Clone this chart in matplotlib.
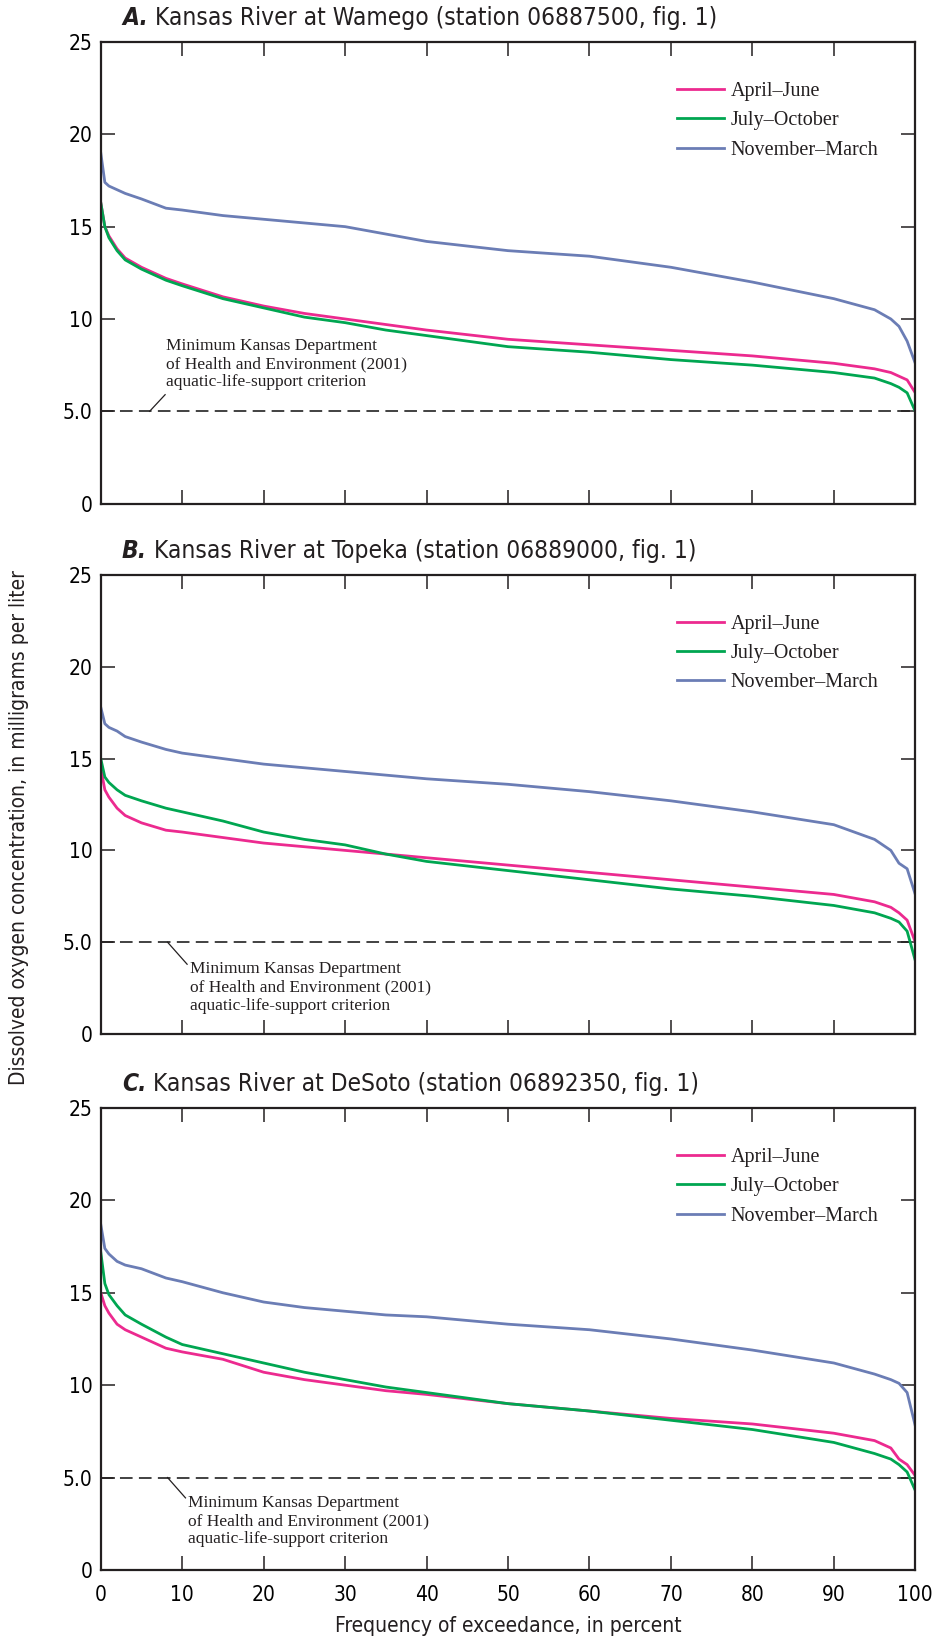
import matplotlib
matplotlib.use("Agg")
import matplotlib.pyplot as plt

# exceedance percent and dissolved oxygen (mg/L)
pct = [0, 0.5, 1, 2, 3, 5, 8, 10, 15, 20, 25, 30, 35, 40, 50, 60, 70, 80, 90, 95, 97, 98, 99, 100]

wamego_apr_jun = [16.3, 15.0, 14.5, 13.8, 13.3, 12.8, 12.2, 11.9, 11.2, 10.7, 10.3, 10.0, 9.7, 9.4, 8.9, 8.6, 8.3, 8.0, 7.6, 7.3, 7.1, 6.9, 6.7, 6.0]
wamego_jul_oct = [16.3, 15.0, 14.4, 13.7, 13.2, 12.7, 12.1, 11.8, 11.1, 10.6, 10.1, 9.8, 9.4, 9.1, 8.5, 8.2, 7.8, 7.5, 7.1, 6.8, 6.5, 6.3, 6.0, 5.0]
wamego_nov_mar = [19.0, 17.4, 17.2, 17.0, 16.8, 16.5, 16.0, 15.9, 15.6, 15.4, 15.2, 15.0, 14.6, 14.2, 13.7, 13.4, 12.8, 12.0, 11.1, 10.5, 10.0, 9.6, 8.8, 7.6]

topeka_apr_jun = [14.5, 13.3, 12.9, 12.3, 11.9, 11.5, 11.1, 11.0, 10.7, 10.4, 10.2, 10.0, 9.8, 9.6, 9.2, 8.8, 8.4, 8.0, 7.6, 7.2, 6.9, 6.6, 6.2, 5.0]
topeka_jul_oct = [15.0, 14.0, 13.7, 13.3, 13.0, 12.7, 12.3, 12.1, 11.6, 11.0, 10.6, 10.3, 9.8, 9.4, 8.9, 8.4, 7.9, 7.5, 7.0, 6.6, 6.3, 6.1, 5.6, 4.0]
topeka_nov_mar = [17.8, 16.9, 16.7, 16.5, 16.2, 15.9, 15.5, 15.3, 15.0, 14.7, 14.5, 14.3, 14.1, 13.9, 13.6, 13.2, 12.7, 12.1, 11.4, 10.6, 10.0, 9.3, 9.0, 7.6]

desoto_apr_jun = [15.0, 14.3, 13.9, 13.3, 13.0, 12.6, 12.0, 11.8, 11.4, 10.7, 10.3, 10.0, 9.7, 9.5, 9.0, 8.6, 8.2, 7.9, 7.4, 7.0, 6.6, 6.0, 5.7, 5.1]
desoto_jul_oct = [17.2, 15.5, 14.9, 14.3, 13.8, 13.3, 12.6, 12.2, 11.7, 11.2, 10.7, 10.3, 9.9, 9.6, 9.0, 8.6, 8.1, 7.6, 6.9, 6.3, 6.0, 5.7, 5.3, 4.3]
desoto_nov_mar = [18.7, 17.4, 17.1, 16.7, 16.5, 16.3, 15.8, 15.6, 15.0, 14.5, 14.2, 14.0, 13.8, 13.7, 13.3, 13.0, 12.5, 11.9, 11.2, 10.6, 10.3, 10.1, 9.6, 7.8]

criterion = 5.0
seasons = ["April\u2013June", "July\u2013October", "November\u2013March"]
colors = ["#ec2a8f", "#00a651", "#6b7db5"]

panels = [
    ("A.", "Kansas River at Wamego (station 06887500, fig. 1)",
     [wamego_apr_jun, wamego_jul_oct, wamego_nov_mar]),
    ("B.", "Kansas River at Topeka (station 06889000, fig. 1)",
     [topeka_apr_jun, topeka_jul_oct, topeka_nov_mar]),
    ("C.", "Kansas River at DeSoto (station 06892350, fig. 1)",
     [desoto_apr_jun, desoto_jul_oct, desoto_nov_mar]),
]

note = ("Minimum Kansas Department\n"
        "of Health and Environment (2001)\n"
        "aquatic-life-support criterion")
# leader start (x on the line), leader end, text anchor (left, top)
notes = [
    ((6.0, 5.0), (7.9, 5.9), (8.0, 8.95)),
    ((8.2, 5.0), (10.6, 3.8), (10.9, 3.95)),
    ((8.2, 5.0), (10.4, 3.9), (10.7, 4.05)),
]

sans = "DejaVu Sans"
cond = "condensed"
serif = "Liberation Serif"
ink = "#231f20"

fig = plt.figure(figsize=(9.33, 16.41), dpi=100)
boxes = [(0.108, 0.6931, 0.873, 0.2813),
         (0.108, 0.3699, 0.873, 0.2797),
         (0.108, 0.0433, 0.873, 0.2815)]

for i, (letter, title, series) in enumerate(panels):
    ax = fig.add_axes(boxes[i])
    for vals, lab, c in zip(series, seasons, colors):
        ax.plot(pct, vals, color=c, lw=2.0, label=lab, solid_joinstyle="round")
    ax.axhline(criterion, color="#333333", lw=1.3, ls=(0, (7, 3.5)), zorder=1)

    ax.set_xlim(0, 100)
    ax.set_ylim(0, 25)
    ax.set_xticks(range(0, 101, 10))
    ax.set_yticks([0, 5, 10, 15, 20, 25])
    ax.set_yticklabels(["0", "5.0", "10", "15", "20", "25"], fontfamily=sans,
                       fontstretch=cond, fontsize=15)
    ax.tick_params(direction="in", length=10, width=1.1, color=ink,
                   top=True, right=True, pad=6)
    ax.tick_params(axis="x", pad=11)
    if i < 2:
        ax.set_xticklabels([])
    else:
        ax.set_xticklabels([str(v) for v in range(0, 101, 10)], fontfamily=sans,
                           fontstretch=cond, fontsize=15)
    for s in ax.spines.values():
        s.set_linewidth(1.6)
        s.set_color(ink)

    leg = ax.legend(loc="upper left", bbox_to_anchor=(0.708, 0.913), frameon=False,
                    prop={"family": serif, "size": 14.5}, handlelength=2.3,
                    handletextpad=0.35, labelspacing=0.5, borderpad=0, borderaxespad=0)
    for t in leg.get_texts():
        t.set_color(ink)

    (x0, y0), (x1, y1), (tx, ty) = notes[i]
    ax.plot([x0, x1], [y0, y1], color=ink, lw=0.9)
    ax.text(tx, ty, note, family=serif, fontsize=12.5, color=ink,
            ha="left", va="top", linespacing=1.17)

    t1 = ax.text(0.026, 1.052, letter, transform=ax.transAxes, family=sans,
                 fontstretch=cond, fontsize=17.6, fontweight="bold", fontstyle="italic",
                 ha="left", va="center", color=ink)
    ax.annotate(" " + title, xy=(1, 0), xycoords=t1, family=sans, fontstretch=cond,
                fontsize=17.6, ha="left", va="bottom", color=ink)

fig.text(0.02, 0.496, "Dissolved oxygen concentration, in milligrams per liter",
         rotation=90, ha="center", va="center", family=sans, fontstretch=cond,
         fontsize=15, color=ink)
fig.text(0.545, 0.009, "Frequency of exceedance, in percent",
         ha="center", va="center", family=sans, fontstretch=cond, fontsize=15, color=ink)

fig.savefig("out.png", dpi=100)
